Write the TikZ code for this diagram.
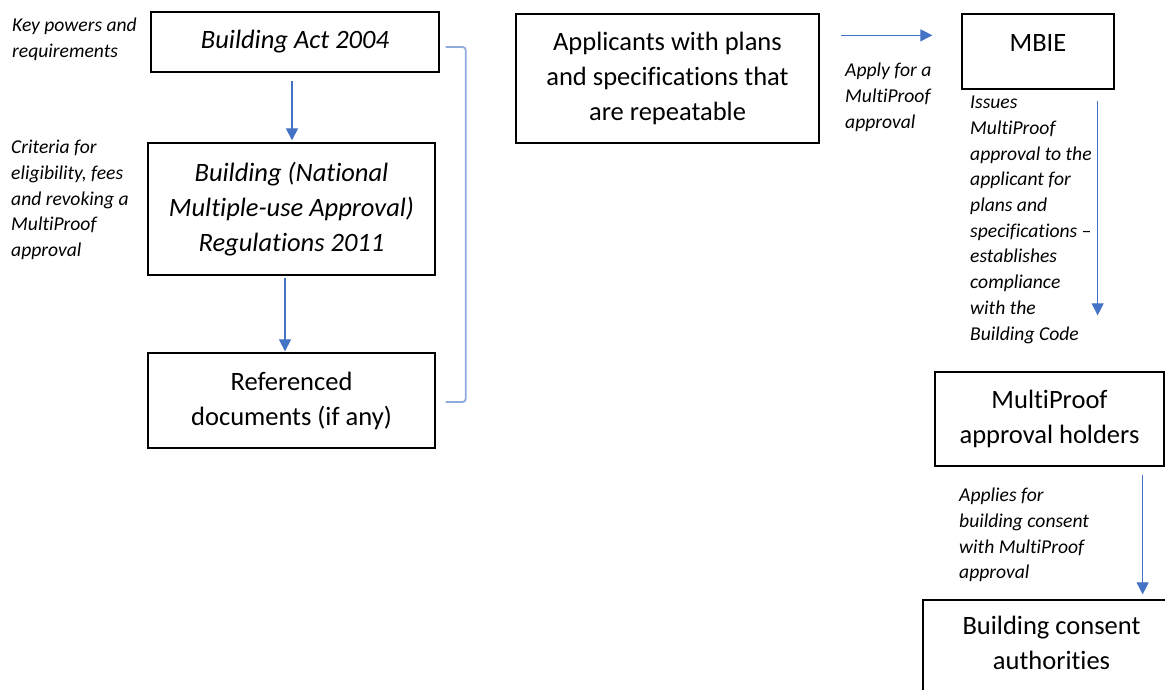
\documentclass[tikz,border=0pt]{standalone}
\usepackage{fontspec}
\setmainfont{Carlito}[Ligatures=NoCommon]
\usetikzlibrary{arrows.meta}
\definecolor{flowblue}{HTML}{4472C4}
\definecolor{bracketblue}{HTML}{8FAADC}
\tikzset{
  box/.style={draw, line width=1.3pt, align=center, inner sep=0pt, font=\fontsize{26.5}{35}\selectfont},
  note/.style={anchor=north west, align=left, inner sep=0pt, font=\fontsize{19.6}{25.7}\selectfont\itshape},
  flow/.style={flowblue, line width=1.2pt, -{Triangle[width=12pt,length=12pt]}},
}
\begin{document}
\begin{tikzpicture}[x=1pt, y=-1pt]
\clip (0,0) rectangle (1165,690);
%left column
\node[box, minimum width=288pt, minimum height=60pt] at (295,42) (act) {\itshape Building Act 2004};
\node[box, minimum width=287pt, minimum height=132pt] at (291.5,209) (regs) {\itshape Building (National\\ \itshape Multiple-use Approval)\\ \itshape Regulations 2011};
\node[box, minimum width=287pt, minimum height=95pt] at (291.5,400.5) (refdocs) {Referenced\\documents (if any)};
\node[note] at (12,17.5) (keynote) {Key powers and\\requirements};
\node[note] at (11,140) (critnote) {Criteria for\\eligibility, fees\\and revoking a\\MultiProof\\approval};
\draw[flow, shorten <=8pt, shorten >=2pt] ([xshift=-3pt]act.south) -- ([xshift=-3pt]act.south |- regs.north);
\draw[flow, shorten <=2pt, shorten >=1pt] ([xshift=-6.5pt]regs.south) -- ([xshift=-6.5pt]refdocs.north);
%bracket
\draw[bracketblue, line width=1.8pt, rounded corners=3pt] ([xshift=6pt,yshift=-5pt]act.east) -- ++(20,0) |- ([xshift=10pt,yshift=-1.5pt]refdocs.east);

%right part
\node[box, minimum width=303pt, minimum height=129pt] at (667.5,78.5) (applicants) {Applicants with plans\\and specifications that\\are repeatable};
\node[box, minimum width=152pt, minimum height=75pt] at (1038,51.5) (mbie) {\raisebox{9pt}[\height][\depth]{MBIE}};
\node[box, minimum width=229pt, minimum height=94pt] at (1049.5,419) (holders) {MultiProof\\approval holders};
\node[box, minimum width=257pt, minimum height=100pt] at (1051.5,650) (bca) {\raisebox{5pt}[\height][\depth]{\begin{tabular}{@{}c@{}}Building consent\\authorities\end{tabular}}};
\node[note] at (845,63) (applynote) {Apply for a\\MultiProof\\approval};
\node[note] at (970,96) (issuenote) {Issues\\MultiProof\\approval to the\\applicant for\\plans and\\specifications --\\establishes\\compliance\\with the\\Building Code};
\node[note] at (959,488) (appliesnote) {Applies for\\building consent\\with MultiProof\\approval};
%arrows
\coordinate (appout) at ([yshift=-22pt]applicants.north east);
\coordinate (mbieout) at ([xshift=-17pt]mbie.south east);
\coordinate (holdout) at ([xshift=-22pt]holders.south east);
\draw[flow, shorten <=21pt, shorten >=29pt] (appout) -- (appout -| mbie.west);
\draw[flow, shorten <=11pt, shorten >=56pt] (mbieout) -- (mbieout |- holders.north);
\draw[flow, shorten <=8pt, shorten >=5pt] (holdout) -- (holdout |- bca.north);
\end{tikzpicture}
\end{document}
